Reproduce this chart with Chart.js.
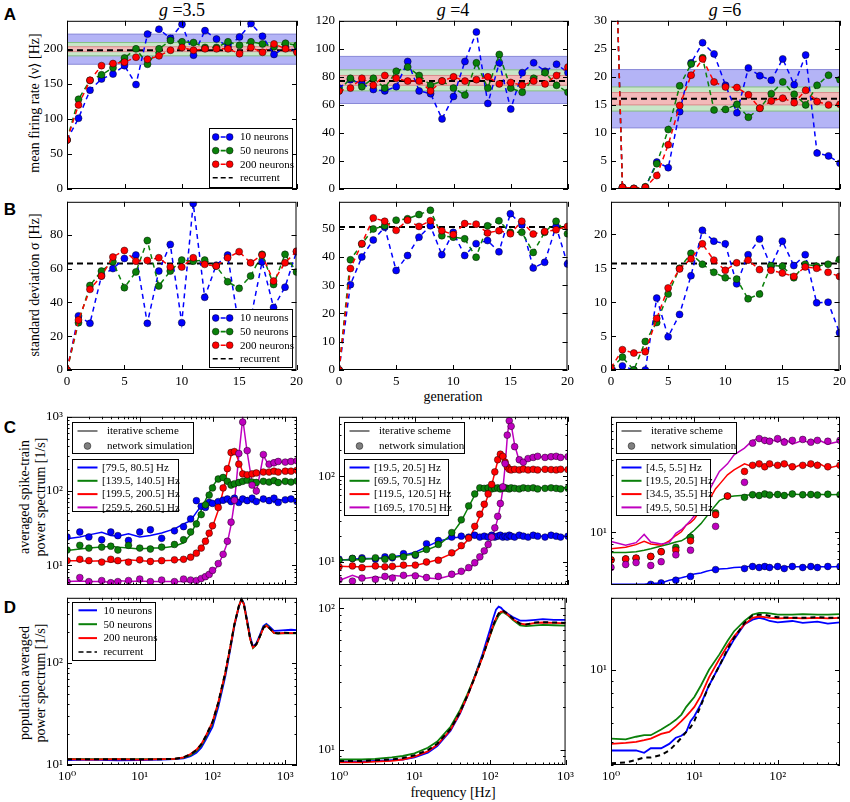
<!DOCTYPE html>
<html>
<head>
<meta charset="utf-8">
<title>Firing rate statistics and power spectra</title>
<script src="https://cdn.jsdelivr.net/npm/chart.js@4.4.1/dist/chart.umd.min.js"></script>
<style>
  html, body { margin: 0; padding: 0; background: #fff; }
  body { position: relative; width: 850px; height: 802px; overflow: hidden; color: #000;
         font-family: 'Liberation Serif', 'DejaVu Serif', serif; }
  canvas { position: absolute; }
  .t { position: absolute; transform: translate(-50%, -50%); white-space: nowrap; }
  .tag { font-family: 'Liberation Sans', Arial, sans-serif; font-weight: bold; font-size: 17px; }
  .ttl { font-size: 18px; }
  .ax { font-size: 14px; }
  .yl { font-size: 14px; line-height: 16px; text-align: center; transform: translate(-50%, -50%) rotate(-90deg); }
</style>
</head>
<body>
<div class="t tag" style="left:10px;top:15px">A</div>
<div class="t tag" style="left:10px;top:210px">B</div>
<div class="t tag" style="left:10px;top:428px">C</div>
<div class="t tag" style="left:10px;top:608px">D</div>

<div class="t ttl" style="left:182px;top:10px"><i>g</i> =3.5</div>
<div class="t ttl" style="left:453px;top:10px"><i>g</i> =4</div>
<div class="t ttl" style="left:725px;top:10px"><i>g</i> =6</div>

<div class="t yl" style="left:35px;top:103px">mean firing rate ⟨ν⟩ [Hz]</div>
<div class="t yl" style="left:35px;top:285px">standard deviation σ [Hz]</div>
<div class="t yl" style="left:33px;top:497px">averaged spike-train<br>power spectrum [1/s]</div>
<div class="t yl" style="left:33px;top:683px">population averaged<br>power spectrum [1/s]</div>

<div class="t ax" style="left:453px;top:397px">generation</div>
<div class="t ax" style="left:453px;top:793px">frequency [Hz]</div>

<script>
// ---- data: generations (rows A, B) ----
const gen = [0, 1, 2, 3, 4, 5, 6, 7, 8, 9, 10, 11, 12, 13, 14, 15, 16, 17, 18, 19, 20]

const a1Blue = [70, 101, 141, 157, 164, 176, 149, 221, 228, 215, 235, 191, 226, 214, 203, 217, 236, 218, 192, 202, 197]
const a1Green = [70, 128, 155, 163, 173, 187, 200, 178, 200, 212, 210, 209, 202, 202, 210, 205, 210, 207, 203, 208, 205]
const a1Red = [70, 120, 155, 176, 179, 181, 188, 185, 190, 198, 202, 198, 200, 200, 200, 193, 202, 195, 207, 200, 195]
const a1Rec = 198
const a1Bands = [[178, 221], [190, 209], [196, 203]]   // 10, 50, 200 neurons

const a2Blue = [72, 78, 75, 71, 70, 73, 91, 70, 68, 50, 66, 91, 112, 61, 90, 57, 83, 90, 84, 89, 83]
const a2Green = [70, 79, 73, 79, 72, 84, 87, 81, 74, 77, 72, 67, 90, 72, 96, 72, 69, 79, 83, 74, 69]
const a2Red = [70, 72, 79, 74, 81, 79, 77, 77, 70, 77, 80, 77, 78, 80, 75, 76, 74, 77, 75, 81, 87]
const a2Rec = 77
const a2Bands = [[61, 94.6], [70, 85], [74, 81]]

const a3Blue = [72, 0.3, 0.1, 0.3, 4.8, 3.8, 13.8, 22.5, 26.1, 24.1, 18.5, 13.6, 21.6, 20.2, 19.4, 23.2, 18.6, 23.9, 6.4, 5.9, 4.6]
const a3Green = [72, 0.3, 0.1, 0.4, 4.5, 10.6, 18.4, 22.3, 23.4, 14.1, 14.2, 15.1, 12.8, 14.4, 17, 19.1, 16.9, 15, 18.5, 20.3, 19.5]
const a3Red = [72, 0.3, 0.1, 0.3, 2.4, 7.9, 14.9, 20.3, 23.2, 19.1, 18.2, 18.1, 16.8, 14.4, 15.7, 16.2, 15.4, 17.6, 15.6, 15, 15.1]
const a3Rec = 16.1
const a3Bands = [[10.9, 21.3], [13.9, 18.2], [15, 17.2]]

const b1Blue = [0, 32, 27.6, 55.6, 60, 66, 68, 27.6, 58.5, 74.3, 28, 98.5, 43, 62, 68, 25, 30, 64, 37, 49, 70]
const b1Green = [0, 28, 50, 58.5, 64, 48.7, 58, 76.6, 49.7, 58.5, 65, 64.4, 65, 61.5, 52.2, 48.3, 55.6, 68.4, 50.6, 68.4, 58]
const b1Red = [0, 29.6, 47.7, 55.6, 66.8, 70.7, 64.4, 64.8, 66.4, 61, 60.9, 66.4, 62.5, 61.5, 66.4, 70, 63.4, 68, 52.6, 63.4, 70.3]
const b1Rec = 63

const b2Blue = [0, 30.2, 40, 46, 50.5, 35.2, 40.5, 47, 51, 40.8, 48.7, 40.5, 44.7, 45.8, 41.8, 55.3, 51.4, 36.1, 38.1, 50.8, 37.5]
const b2Green = [0, 39, 44.6, 49.9, 51, 53, 53.5, 55, 56.5, 47.5, 47, 46.4, 39.9, 51, 52.8, 48.7, 48.7, 41.6, 48.7, 52.6, 48.2]
const b2Red = [0, 35.9, 44.7, 53.8, 52.6, 49.4, 53, 50.8, 52.8, 49.3, 47.9, 51.8, 51.6, 48.5, 49.3, 48.2, 52.6, 48.1, 49, 49.6, 50.8]
const b2Rec = 50.6

const b3Blue = [0, 0.6, 0, 0, 10.6, 4.9, 8.2, 13.9, 20.6, 19, 18.6, 12.7, 17, 19.3, 15.3, 19, 15.4, 17, 9.9, 10, 5.5]
const b3Green = [0.2, 1.9, 0, 4.2, 7, 11.2, 15, 17.2, 15.6, 14.4, 13.6, 13.4, 10.5, 11.2, 15.4, 15.3, 13.6, 15.6, 15.3, 15.6, 16.3]
const b3Red = [0.3, 3, 2.5, 2.7, 7.6, 12.1, 14.9, 16.4, 18.6, 16.2, 14.7, 15.8, 16.2, 14.8, 14.7, 14.3, 13.8, 15.2, 15, 14.4, 13.8]
const b3Rec = 15.7

// ---- data: spike-train power spectra (row C) ----
const fC1 = [1, 1.5, 2, 3, 4, 5, 7, 10, 14, 20, 30, 40, 50, 60, 70, 80, 90, 100, 120, 140, 160, 180, 200, 230, 260, 300, 350, 400, 500, 600, 700, 800, 1000, 1200, 1450]
const c1Blue = [22.7, 23.9, 25.6, 27.8, 25.1, 24.6, 26.4, 23.9, 25.1, 27.2, 30.8, 35.9, 39.8, 51.4, 63, 63, 70, 66.4, 73.6, 70, 77.4, 70, 81.5, 73.6, 77.4, 81.5, 70, 77.4, 73.6, 81.5, 70, 77, 74, 79, 70]
const c1Green = [15.8, 16.5, 17, 17.5, 18, 17.5, 17, 16.5, 17, 17, 18, 20, 26, 37, 55, 75, 95, 115, 148, 150, 140, 128, 122, 125, 132, 138, 135, 132, 133, 135, 132, 134, 133, 136, 133]
const c1Red = [11.5, 11.5, 11.3, 11.5, 11, 11.3, 11.8, 11.5, 11.3, 11.5, 11.6, 12, 12.5, 14, 17, 21, 26, 33, 55, 100, 190, 300, 360, 250, 180, 160, 175, 178, 180, 185, 180, 188, 185, 190, 185]
const c1Purple = [6, 6.1, 6, 6, 5.9, 6.2, 6, 6.1, 6, 6, 6, 6, 6, 6.2, 6.5, 7, 7.5, 8, 10, 14, 20, 35, 70, 300, 950, 330, 130, 95, 300, 220, 230, 250, 240, 245, 250]
const c1BlueSim = [24, 28, 24, 22, 28, 25, 21.5, 28, 30, 23, 29, 33, 42, 74, 62, 60, 70, 68, 72, 75, 78, 72, 80, 70, 78, 74, 80, 72, 78, 74, 80, 70, 76, 78, 72]
const c1GreenSim = [16, 18.5, 17, 17.5, 18, 16, 18.5, 17, 16.5, 17.5, 19, 22, 28, 36, 48, 65, 88, 110, 145, 152, 135, 120, 125, 130, 135, 140, 132, 130, 135, 132, 138, 130, 135, 132, 136]
const c1RedSim = [11.5, 12, 11.5, 11, 12, 11.5, 11, 11.8, 11.2, 11.5, 11.8, 12, 12.8, 14.5, 17, 21, 27, 34, 60, 110, 200, 330, 340, 230, 170, 165, 170, 175, 180, 180, 185, 180, 185, 185, 190]
const c1PurpleSim = [6, 6.8, 6, 6.2, 5.8, 6, 6.2, 6.5, 6, 6.3, 6, 6.5, 6.3, 6.2, 6.6, 7, 7.5, 8.5, 10.5, 14, 21, 38, 75, 320, 850, 350, 120, 100, 310, 230, 240, 250, 245, 250, 255]

const fC2 = [1, 1.5, 2, 3, 4, 5, 7, 10, 14, 20, 30, 40, 50, 60, 70, 80, 90, 100, 110, 120, 130, 140, 150, 160, 170, 180, 200, 230, 260, 300, 350, 400, 500, 600, 700, 800, 1000]
const c2Blue = [10.5, 10.8, 11, 11, 11.2, 11.5, 12, 13, 15, 17.5, 19, 19.5, 20, 19.5, 20.5, 19.8, 20.5, 19.5, 20.5, 19.5, 20.5, 20, 19.5, 20.5, 20, 19.5, 20.5, 19.5, 20.5, 20, 19.5, 20.5, 19.5, 20.5, 19.5, 20.3, 19.5]
const c2Green = [10.7, 10.5, 10.8, 11, 11, 11.2, 11.8, 12.5, 13.8, 15.6, 21, 30, 44, 60, 72, 73, 72, 72, 74, 71, 73, 72, 74, 71, 73, 72, 71, 74, 72, 73, 71, 74, 72, 73, 71, 74, 72]
const c2Red = [8.9, 8.8, 8.8, 8.9, 8.7, 8.8, 9, 9.1, 9.8, 10.7, 12.5, 15, 18.5, 25, 34, 45, 60, 78, 110, 150, 185, 175, 150, 130, 122, 118, 118, 120, 118, 120, 117, 120, 118, 121, 117, 120, 118]
const c2Purple = [6.1, 7, 6.4, 6.7, 6.5, 7, 6.8, 7.1, 6.5, 6.4, 7, 7.5, 8.4, 9.5, 11, 13, 15.5, 18.5, 24, 32, 45, 70, 130, 280, 460, 400, 230, 150, 140, 155, 160, 165, 170, 160, 172, 165, 170]
const c2BlueSim = [10.8, 11, 11.2, 10.8, 11.5, 11.2, 12.5, 12, 16.3, 17.8, 19.5, 20, 19.5, 20.5, 19.5, 20, 19.5, 20.5, 19.5, 20, 20.5, 19.5, 20, 19.5, 20.5, 20, 19.5, 20.5, 20, 19.5, 20.5, 20, 19.5, 20.5, 20, 19.5, 20]
const c2GreenSim = [10.5, 11, 10.8, 11.2, 10.8, 11.5, 11.5, 12.2, 14, 16, 22, 31, 45, 62, 73, 72, 73, 71, 72, 73, 71, 72, 73, 72, 71, 73, 72, 71, 73, 72, 73, 71, 72, 73, 72, 71, 72]
const c2RedSim = [8.8, 9, 8.6, 9, 8.8, 8.9, 9.2, 9.2, 10, 10.5, 12.8, 15.5, 19, 26, 36, 47, 62, 80, 112, 155, 180, 170, 145, 128, 120, 118, 120, 118, 121, 118, 120, 118, 120, 119, 118, 120, 119]
const c2PurpleSim = [6.2, 6, 6.5, 6.3, 6.8, 6.5, 7, 6.9, 6.6, 6.8, 7.2, 7.8, 8.6, 9.8, 11.5, 13.5, 16, 19.5, 25, 34, 48, 75, 140, 300, 440, 380, 220, 155, 145, 160, 165, 170, 165, 168, 170, 165, 168]

const fC3 = [1, 1.5, 2, 2.5, 3, 4, 5, 6, 7, 8, 9, 10, 12, 14, 16, 18, 20, 25, 30, 40, 50, 60, 70, 80, 100, 120, 150, 200, 250, 300, 400, 560]
const c3Blue = [3.7, 3.7, 3.7, 3.7, 3.75, 3.8, 4.0, 4.1, 4.2, 4.3, 4.4, 4.5, 4.6, 4.75, 4.85, 4.9, 4.95, 5.0, 5.1, 5.15, 5.25, 5.2, 5.1, 5.2, 5.1, 5.2, 5.15, 5.2, 5.1, 5.2, 5.15, 5.2]
const c3Green = [6.8, 6.8, 6.9, 7.1, 7.3, 7.7, 8.0, 8.3, 8.5, 9.0, 9.8, 10.4, 11.8, 13.5, 15.2, 16.8, 18.3, 19.6, 20, 20.3, 20.5, 20.2, 20.6, 20.4, 20.7, 20.3, 20.8, 20.5, 20.4, 20.7, 20.5, 20.6]
const c3Red = [7.3, 7.5, 7.9, 8.4, 8.0, 7.8, 8.5, 9.4, 10.1, 11.5, 12, 12.9, 15.5, 17.5, 20, 23, 25, 30, 33, 37, 35, 38, 34, 37, 35, 38, 34, 37, 35, 38, 34, 36]
const c3Purple = [8.4, 7.8, 8.2, 9.6, 8.3, 8.0, 8.2, 9.8, 10.5, 11.5, 12.5, 13.7, 17.5, 20, 24, 28, 32, 37, 44, 50, 58, 60, 55, 60, 56, 60, 54, 58, 55, 59, 54, 57]
const c3BlueSim = [null, null, null, null, 3.7, 3.8, null, 4.0, null, null, 4.3, null, null, null, null, 4.9, null, null, null, 5.0, 5.2, 5.1, 5.2, 5.1, 5.2, 5.0, 5.2, 5.1, 5.2, 5.1, 5.2, 5.2]
const c3GreenSim = [5.9, 6.0, 6.1, null, 6.3, 6.9, null, 7.5, null, null, 9.1, null, null, null, null, 14.5, null, 20, null, 19.5, 20.5, 20.2, 20.8, 20.4, 20.6, 20.2, 20.8, 20.5, 20.6, 20.4, 20.7, 20.5]
const c3RedSim = [5.9, 6.0, 6.1, null, 6.3, 6.9, null, 7.1, null, null, 8.5, null, null, null, null, 14, null, 20, null, 32, 36, 37, 35, 37, 36, 37, 35, 36, 37, 36, 35, 36]
const c3PurpleSim = [5.1, 5.4, 5.6, null, 5.3, 5.7, null, 6.5, null, null, 7.1, null, null, null, null, 11.2, null, null, null, 26, 55, 60, 58, 57, 60, 56, 58, 59, 56, 58, 57, 58]

// ---- data: population averaged spectra (row D) ----
const fD1 = [1, 2, 5, 10, 20, 30, 40, 50, 60, 70, 80, 100, 120, 150, 180, 200, 230, 250, 270, 300, 330, 360, 400, 450, 500, 550, 600, 700, 800, 1000, 1200, 1450]
const d1Blue = [11.2, 11.3, 11.1, 11.2, 11.3, 11.4, 11.6, 12.2, 13.2, 14.8, 17.5, 23.6, 37, 74, 150, 232, 355, 425, 385, 262, 180, 145, 156, 190, 230, 242, 230, 207, 208, 210, 212, 210]
const d1Green = [11.5, 11.4, 11.4, 11.4, 11.4, 11.5, 11.8, 12.5, 13.7, 15.5, 18.4, 25.5, 40, 79, 157, 238, 360, 425, 378, 252, 172, 140, 151, 182, 223, 236, 222, 196, 194, 196, 195, 195]
const d1Red = [11.4, 11.3, 11.4, 11.3, 11.4, 11.5, 11.9, 12.8, 14.1, 16, 19, 26.5, 41, 80, 158, 240, 360, 420, 375, 250, 170, 142, 152, 183, 220, 232, 220, 197, 195, 197, 196, 196]
const d1Rec = [11.4, 11.4, 11.4, 11.4, 11.4, 11.5, 11.9, 12.7, 14, 15.9, 18.9, 26.4, 41, 81, 159, 240, 361, 420, 375, 250, 171, 142, 153, 184, 222, 234, 222, 198, 196, 198, 197, 197]

const fD2 = [1, 2, 3, 5, 7, 10, 15, 20, 30, 40, 50, 60, 70, 80, 90, 100, 110, 120, 130, 140, 150, 170, 200, 250, 300, 400, 500, 700, 1000]
const d2Blue = [8.2, 8.2, 8.3, 8.4, 8.5, 8.8, 9.5, 10.6, 13.6, 18, 23.8, 31, 39, 48, 59, 71, 85, 98, 103, 101, 97, 92, 87, 82, 82, 83, 84, 83, 83]
const d2Green = [8.5, 8.5, 8.6, 8.8, 9.0, 9.4, 10.3, 11.4, 14.5, 19, 24.6, 31, 38.5, 46, 55, 64, 74, 82, 89, 93, 94, 90, 83, 76, 75, 76, 76.5, 76, 75.5]
const d2Red = [8.1, 8.1, 8.2, 8.3, 8.5, 8.9, 9.7, 10.8, 13.8, 18.2, 23.8, 30.4, 37.8, 45.5, 55, 65, 76, 85, 92, 95, 95, 91, 84, 78, 77, 79, 79.5, 79, 78.5]
const d2Rec = [8.3, 8.3, 8.4, 8.5, 8.7, 9.1, 9.9, 11, 14, 18.4, 24, 30.6, 38, 45.8, 55, 65, 76, 85, 92, 96, 96, 92, 85, 78, 77, 79.5, 80, 79.5, 79]

const fD3 = [1, 1.5, 2, 2.5, 3, 4, 5, 6, 7, 8, 9, 10, 12, 15, 20, 25, 30, 40, 50, 60, 70, 80, 100, 150, 200, 300, 400, 560]
const d3Blue = [4.6, 4.6, 4.6, 4.5, 4.7, 4.7, 4.9, 5.2, 5.3, 5.5, 6.1, 6.4, 7.2, 8.6, 10.4, 12, 13.4, 15.5, 16.2, 16.5, 16.3, 16.0, 15.8, 16.0, 15.7, 15.9, 15.6, 15.8]
const d3Green = [5.16, 5.12, 5.25, 5.33, 5.33, 5.63, 5.9, 6.18, 6.5, 7.0, 7.36, 7.7, 8.6, 10, 11.6, 13.2, 14.5, 16, 17, 17.3, 17.3, 17.2, 17.0, 17.0, 17.1, 17.0, 17.0, 17.1]
const d3Red = [4.9, 4.95, 5.0, 5.08, 5.16, 5.4, 5.5, 5.8, 6.1, 6.4, 6.7, 7.0, 7.8, 9.3, 11.1, 12.6, 13.8, 15.5, 16.5, 16.7, 16.6, 16.5, 16.4, 16.5, 16.4, 16.5, 16.4, 16.5]
const d3Rec = [4.07, 4.1, 4.2, 4.3, 4.3, 4.4, 4.6, 4.9, 5.2, 5.5, 5.75, 6.1, 7.1, 8.6, 10.4, 12.2, 13.6, 15.7, 16.9, 17, 17, 16.8, 16.6, 16.5, 16.5, 16.6, 16.5, 16.5]

const neuronLabels = ['10 neurons', '50 neurons', '200 neurons', 'recurrent']
const binLabels = [
  ['[79.5, 80.5] Hz', '[139.5, 140.5] Hz', '[199.5, 200.5] Hz', '[259.5, 260.5] Hz'],
  ['[19.5, 20.5] Hz', '[69.5, 70.5] Hz', '[119.5, 120.5] Hz', '[169.5, 170.5] Hz'],
  ['[4.5, 5.5] Hz', '[19.5, 20.5] Hz', '[34.5, 35.5] Hz', '[49.5, 50.5] Hz']
]

// ---- look ----
const SERIF = "'Liberation Serif', 'DejaVu Serif', serif"
Chart.defaults.font.family = SERIF
Chart.defaults.font.size = 13
Chart.defaults.color = '#000'

const BLUE = '#0000ff', GREEN = '#0a800a', RED = '#ff0000', PURPLE = '#bf00bf', BLACK = '#000000', GRAY = '#808080'
const DOT_EDGE = 'rgba(0,0,0,0.75)'
const BAND_FILL = ['#b4b4f6', '#c8e6c8', '#f3b9b9']
const BAND_EDGE = ['#8a8ad8', '#84bf84', '#d98a8a']

const COLS = [{ x: 67, w: 230 }, { x: 339, w: 229 }, { x: 611, w: 229 }]
const ROWS = [{ y: 19, h: 170 }, { y: 200, h: 170 }, { y: 415, h: 170 }, { y: 596, h: 169 }]
const PAD = { l: 44, r: 10, t: 10, b: 24 }
const SUP = { '-1': '⁻¹', 0: '⁰', 1: '¹', 2: '²', 3: '³' }

const pts = (xs, ys) => xs.map((x, i) => ({ x, y: ys[i] })).filter(p => p.y != null)
const isPow10 = v => Math.abs(Math.log10(v) - Math.round(Math.log10(v))) < 1e-9

function fitAxis(s) {
  if (s.axis === 'x') s.height = PAD.b
  else s.width = PAD.l
}

function linScale(min, max, step, labels) {
  return {
    type: 'linear', min, max,
    grid: { display: false, drawTicks: false }, border: { display: false },
    ticks: { stepSize: step, autoSkip: false, padding: 4, maxRotation: 0,
      callback: v => labels && Math.abs(v / step - Math.round(v / step)) < 1e-9 ? v : '' },
    afterFit: fitAxis
  }
}

function logScale(min, max, labels) {
  return {
    type: 'logarithmic', min, max,
    grid: { display: false, drawTicks: false }, border: { display: false },
    ticks: { autoSkip: false, padding: 4, maxRotation: 0,
      callback: v => labels && isPow10(v) ? '10' + SUP[Math.round(Math.log10(v))] : '' },
    afterFit: fitAxis
  }
}

// matplotlib style frame with inward ticks on all four sides
function tickKind(s, v) {
  if (s.type === 'logarithmic') {
    const e = Math.floor(Math.log10(v) + 1e-9)
    const m = v / Math.pow(10, e)
    if (Math.abs(m - Math.round(m)) > 1e-6) return 0
    return Math.round(m) === 1 ? 2 : 1
  }
  const st = s.options.ticks.stepSize
  return Math.abs(v / st - Math.round(v / st)) < 1e-9 ? 2 : 0
}

const frame = {
  id: 'frame',
  afterDatasetsDraw(chart) {
    const { ctx, chartArea: a } = chart
    ctx.save()
    ctx.strokeStyle = '#000'
    ctx.lineWidth = 1
    ;['x', 'y'].forEach(id => {
      const s = chart.scales[id]
      s.ticks.forEach(t => {
        const k = tickKind(s, t.value)
        if (!k) return
        const len = k === 2 ? 5 : 2.5
        const p = Math.round(s.getPixelForValue(t.value)) + 0.5
        ctx.beginPath()
        if (id === 'x') {
          ctx.moveTo(p, a.bottom); ctx.lineTo(p, a.bottom - len)
          ctx.moveTo(p, a.top); ctx.lineTo(p, a.top + len)
        } else {
          ctx.moveTo(a.left, p); ctx.lineTo(a.left + len, p)
          ctx.moveTo(a.right, p); ctx.lineTo(a.right - len, p)
        }
        ctx.stroke()
      })
    })
    ctx.strokeRect(a.left + 0.5, a.top + 0.5, a.width - 1, a.height - 1)
    ctx.restore()
  }
}

function circle(ctx, x, y, r, color) {
  ctx.beginPath()
  ctx.arc(x, y, r, 0, Math.PI * 2)
  ctx.fillStyle = color
  ctx.fill()
  ctx.lineWidth = 0.6
  ctx.strokeStyle = DOT_EDGE
  ctx.stroke()
}

function drawHandle(ctx, it, x, y, w) {
  ctx.save()
  if (it.kind === 'dot') {
    circle(ctx, x + w / 2, y, 3.4, it.color)
  } else {
    ctx.strokeStyle = it.color
    ctx.lineWidth = it.kind === 'line' ? 2 : 1.6
    ctx.setLineDash(it.kind === 'line' ? [] : [5, 3])
    ctx.beginPath(); ctx.moveTo(x, y); ctx.lineTo(x + w, y); ctx.stroke()
    ctx.setLineDash([])
    if (it.kind === 'dotdash') {
      circle(ctx, x + 3, y, 3.4, it.color)
      circle(ctx, x + w - 3, y, 3.4, it.color)
    }
  }
  ctx.restore()
}

function legendBox(boxes) {
  return {
    id: 'legendBox',
    afterDraw(chart) {
      const { ctx, chartArea: a } = chart
      boxes.forEach(b => {
        const x0 = Math.round(a.left + b.x), y0 = Math.round(a.top + b.y)
        ctx.save()
        ctx.fillStyle = '#fff'
        ctx.fillRect(x0, y0, b.w, b.h)
        ctx.strokeStyle = '#000'
        ctx.lineWidth = 1
        ctx.strokeRect(x0 + 0.5, y0 + 0.5, b.w, b.h)
        ctx.font = b.size + 'px ' + SERIF
        ctx.textBaseline = 'middle'
        b.items.forEach((it, i) => {
          const y = y0 + b.first + i * b.step
          drawHandle(ctx, it, x0 + b.hx, y, b.hw)
          ctx.fillStyle = '#000'
          ctx.fillText(it.label, x0 + b.tx, y + 0.5)
        })
        ctx.restore()
      })
    }
  }
}

function panel(col, row, datasets, xScale, yScale, boxes) {
  const c = COLS[col], r = ROWS[row]
  const W = c.w + PAD.l + PAD.r, H = r.h + PAD.t + PAD.b
  const cv = document.createElement('canvas')
  cv.width = W
  cv.height = H
  Object.assign(cv.style, { left: (c.x - PAD.l) + 'px', top: (r.y - PAD.t) + 'px', width: W + 'px', height: H + 'px' })
  document.body.append(cv)
  new Chart(cv, {
    type: 'line',
    data: { datasets },
    options: {
      responsive: false, animation: false, events: [],
      layout: { padding: { left: 0, right: PAD.r, top: PAD.t, bottom: 0 } },
      scales: { x: xScale, y: yScale },
      plugins: { legend: { display: false }, tooltip: { enabled: false } }
    },
    plugins: [frame, legendBox(boxes || [])]
  })
}

// ---- dataset builders ----
function genLine(vals, color, order) {
  return { data: pts(gen, vals), borderColor: color, borderWidth: 1.5, borderDash: [5, 4],
    pointRadius: 3.5, pointBackgroundColor: color, pointBorderColor: DOT_EDGE, pointBorderWidth: 0.6,
    order, clip: 0 }
}
function flat(xs, v, color, width, dash, order) {
  return { data: [{ x: xs[0], y: v }, { x: xs[xs.length - 1], y: v }], borderColor: color,
    borderWidth: width, borderDash: dash, pointRadius: 0, order, clip: 0 }
}
function genSets(s10, s50, s200, rec, bands) {
  const ds = [genLine(s200, RED, 1), genLine(s50, GREEN, 2), genLine(s10, BLUE, 3), flat(gen, rec, BLACK, 2, [6, 4], 4)]
  if (bands) {
    bands.forEach((b, i) => {
      const lo = flat(gen, b[0], BAND_EDGE[i], 1, [], 12 - i)
      const hi = flat(gen, b[1], BAND_EDGE[i], 1, [], 12 - i)
      hi.fill = '-1'
      hi.backgroundColor = BAND_FILL[i]
      ds.push(lo, hi)
    })
  }
  return ds
}
function specLine(xs, vals, color, width, order, dash) {
  return { data: pts(xs, vals), borderColor: color, borderWidth: width, borderDash: dash || [],
    pointRadius: 0, order, clip: 0 }
}
function specDots(xs, vals, color, order) {
  return { data: pts(xs, vals), showLine: false, borderColor: color, pointRadius: 3.4,
    pointBackgroundColor: color, pointBorderColor: DOT_EDGE, pointBorderWidth: 0.6, order, clip: 0 }
}
function spikeSets(f, lines, sims) {
  const colors = [BLUE, GREEN, RED, PURPLE]
  const ds = []
  sims.forEach((v, i) => ds.push(specDots(f, v, colors[i], 4 - i)))
  lines.forEach((v, i) => ds.push(specLine(f, v, colors[i], 1.5, 8 - i)))
  return ds
}
function popSets(f, b, g, r, rec) {
  return [specLine(f, rec, BLACK, 2, 1, [5, 4]), specLine(f, r, RED, 1.8, 2), specLine(f, g, GREEN, 1.8, 3), specLine(f, b, BLUE, 1.8, 4)]
}

// ---- legends ----
const genLegend = (y, h) => ({ x: 142, y, w: 83, h, size: 11, first: 9, step: 13.6, hx: 3.7, hw: 20, tx: 31,
  items: [{ label: neuronLabels[0], color: BLUE, kind: 'dotdash' }, { label: neuronLabels[1], color: GREEN, kind: 'dotdash' },
          { label: neuronLabels[2], color: RED, kind: 'dotdash' }, { label: neuronLabels[3], color: BLACK, kind: 'dash' }] })
const schemeLegend = w => ({ x: 4.5, y: 5, w, h: 31, size: 11, first: 9, step: 15, hx: 5.5, hw: 20, tx: 35,
  items: [{ label: 'iterative scheme', color: GRAY, kind: 'line' }, { label: 'network simulation', color: GRAY, kind: 'dot' }] })
const binLegend = (labels, w, h) => ({ x: 4.5, y: 42, w, h, size: 11, first: 8.5, step: 13.3, hx: 5.5, hw: 20, tx: 30,
  items: [{ label: labels[0], color: BLUE, kind: 'line' }, { label: labels[1], color: GREEN, kind: 'line' },
          { label: labels[2], color: RED, kind: 'line' }, { label: labels[3], color: PURPLE, kind: 'line' }] })
const popLegend = { x: 4.7, y: 4, w: 83, h: 58, size: 11, first: 8.3, step: 13.9, hx: 6.5, hw: 18.5, tx: 31.5,
  items: [{ label: neuronLabels[0], color: BLUE, kind: 'line' }, { label: neuronLabels[1], color: GREEN, kind: 'line' },
          { label: neuronLabels[2], color: RED, kind: 'line' }, { label: neuronLabels[3], color: BLACK, kind: 'dash' }] }

// ---- row A: mean firing rate ----
panel(0, 0, genSets(a1Blue, a1Green, a1Red, a1Rec, a1Bands), linScale(0, 20, 5, false), linScale(0, 240, 50, true), [genLegend(107, 59)])
panel(1, 0, genSets(a2Blue, a2Green, a2Red, a2Rec, a2Bands), linScale(0, 20, 5, false), linScale(0, 120, 20, true))
panel(2, 0, genSets(a3Blue, a3Green, a3Red, a3Rec, a3Bands), linScale(0, 20, 5, false), linScale(0, 30, 5, true))

// ---- row B: standard deviation ----
panel(0, 1, genSets(b1Blue, b1Green, b1Red, b1Rec), linScale(0, 20, 5, true), linScale(0, 99.5, 20, true), [genLegend(107, 58)])
panel(1, 1, genSets(b2Blue, b2Green, b2Red, b2Rec), linScale(0, 20, 5, true), linScale(0, 59.5, 10, true))
panel(2, 1, genSets(b3Blue, b3Green, b3Red, b3Rec), linScale(0, 20, 5, true), linScale(0, 24.8, 5, true))

// ---- row C: spike-train power spectra ----
panel(0, 2, spikeSets(fC1, [c1Blue, c1Green, c1Red, c1Purple], [c1BlueSim, c1GreenSim, c1RedSim, c1PurpleSim]),
  logScale(1, 1450, false), logScale(5.4, 1000, true), [schemeLegend(121), binLegend(binLabels[0], 106, 52)])
panel(1, 2, spikeSets(fC2, [c2Blue, c2Green, c2Red, c2Purple], [c2BlueSim, c2GreenSim, c2RedSim, c2PurpleSim]),
  logScale(1, 1000, false), logScale(5.4, 490, true), [schemeLegend(120), binLegend(binLabels[1], 104, 56)])
panel(2, 2, spikeSets(fC3, [c3Blue, c3Green, c3Red, c3Purple], [c3BlueSim, c3GreenSim, c3RedSim, c3PurpleSim]),
  logScale(1, 560, false), logScale(3.65, 91, true), [schemeLegend(120), binLegend(binLabels[2], 94, 56)])

// ---- row D: population averaged power spectra ----
panel(0, 3, popSets(fD1, d1Blue, d1Green, d1Red, d1Rec), logScale(1, 1450, true), logScale(10, 436, true), [popLegend])
panel(1, 3, popSets(fD2, d2Blue, d2Green, d2Red, d2Rec), logScale(1, 1000, true), logScale(7.77, 119, true))
panel(2, 3, popSets(fD3, d3Blue, d3Green, d3Red, d3Rec), logScale(1, 560, true), logScale(4.0, 20, true))
</script>
</body>
</html>
